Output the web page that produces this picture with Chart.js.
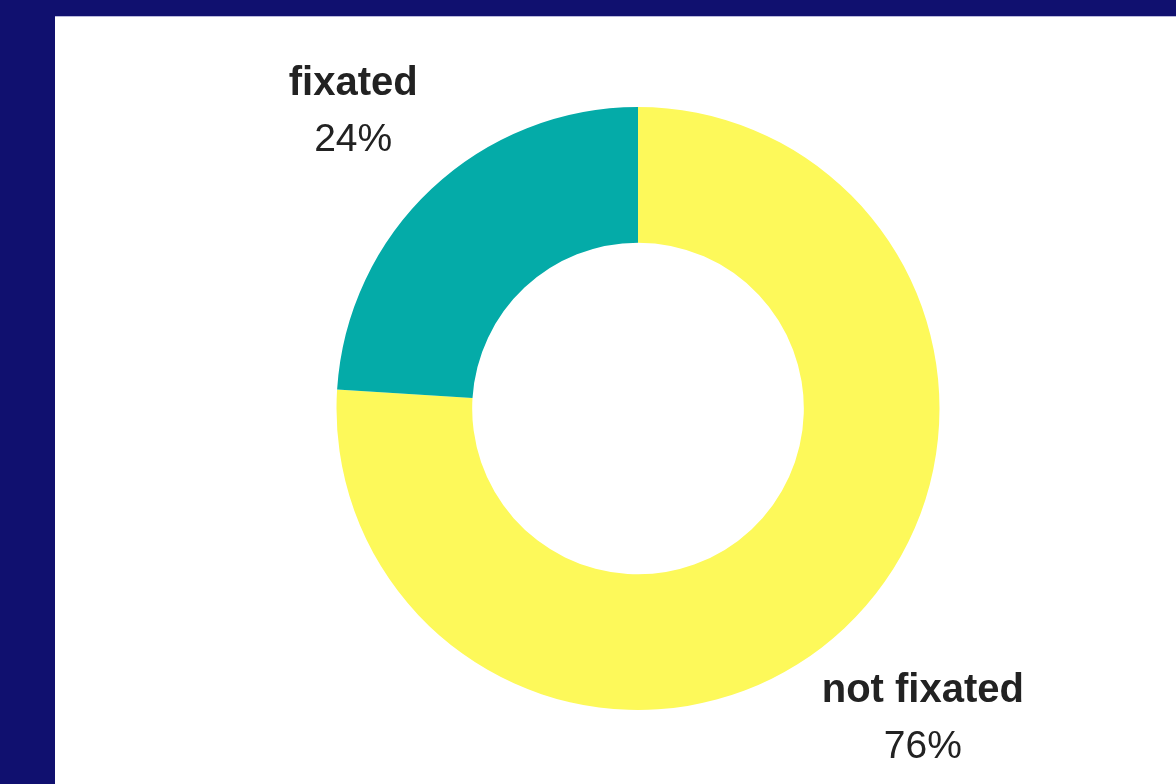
<!DOCTYPE html>
<html>
<head>
<meta charset="utf-8">
<script src="https://cdn.jsdelivr.net/npm/chart.js@4"></script>
<style>
  html, body { margin: 0; padding: 0; }
  body { width: 1176px; height: 784px; background: #10106f; position: relative; overflow: hidden; }
  #panel { position: absolute; left: 55px; top: 16px; width: 1121px; height: 768px; background: #fff; border-top: 1px solid #b9b9dd; box-sizing: border-box; }
</style>
</head>
<body>
<div id="panel"><canvas id="fixChart"></canvas></div>
<script>
// fixation share
const labels = ["not fixated", "fixated"];
const shares = [76, 24];
const colors = ["#fdf95a", "#04aba8"];

// writes the name + percentage outside each slice
const outsideLabels = {
  id: "outsideLabels",
  afterDatasetsDraw(chart) {
    const ctx = chart.ctx;
    const meta = chart.getDatasetMeta(0);
    ctx.save();
    ctx.fillStyle = "#222";
    ctx.textAlign = "center";
    ctx.textBaseline = "alphabetic";
    meta.data.forEach((arc, i) => {
      const p = arc.getProps(["x", "y", "startAngle", "endAngle", "outerRadius"], true);
      const mid = (p.startAngle + p.endAngle) / 2;
      const r = p.outerRadius * 1.38;
      const ax = p.x + Math.cos(mid) * r;
      const ay = p.y + Math.sin(mid) * r;
      ctx.font = "bold 40px 'Liberation Sans', Arial, sans-serif";
      ctx.fillText(chart.data.labels[i], ax, ay - 10);
      ctx.font = "39px 'Liberation Sans', Arial, sans-serif";
      ctx.fillText(chart.data.datasets[0].data[i] + "%", ax, ay + 46);
    });
    ctx.restore();
  }
};

new Chart(document.getElementById("fixChart"), {
  type: "doughnut",
  data: {
    labels: labels,
    datasets: [{
      data: shares,
      backgroundColor: colors,
      borderWidth: 0,
      hoverOffset: 0
    }]
  },
  options: {
    responsive: true,
    maintainAspectRatio: false,
    animation: false,
    cutout: "55%",
    layout: { padding: { left: 281, right: 236, top: 90, bottom: 74 } },
    plugins: {
      legend: { display: false },
      tooltip: { enabled: false }
    }
  },
  plugins: [outsideLabels]
});
</script>
</body>
</html>
